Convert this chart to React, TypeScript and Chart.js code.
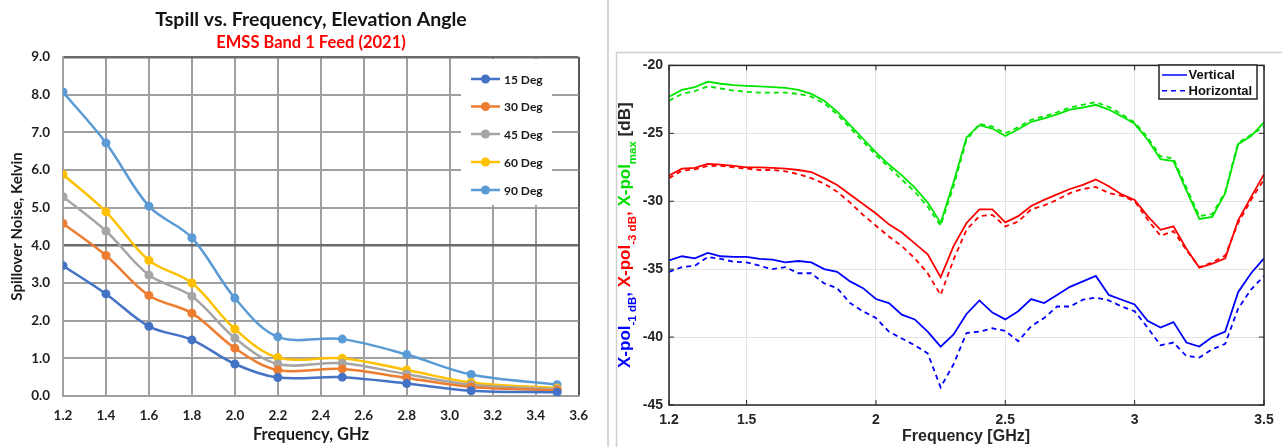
import React, { useEffect, useRef } from "react";
import { Chart, registerables } from "chart.js";
Chart.register(...registerables);

// ---------- Left chart data (Tspill vs frequency) ----------
const leftFreq = [1.2, 1.4, 1.6, 1.8, 2.0, 2.2, 2.5, 2.8, 3.1, 3.5];
const deg15 = [3.46, 2.71, 1.85, 1.49, 0.85, 0.49, 0.5, 0.33, 0.14, 0.1];
const deg30 = [4.58, 3.73, 2.67, 2.2, 1.27, 0.69, 0.72, 0.48, 0.24, 0.15];
const deg45 = [5.29, 4.38, 3.21, 2.65, 1.54, 0.85, 0.87, 0.58, 0.3, 0.18];
const deg60 = [5.88, 4.89, 3.6, 3.0, 1.78, 1.02, 1.0, 0.69, 0.36, 0.21];
const deg90 = [8.07, 6.72, 5.04, 4.2, 2.6, 1.57, 1.51, 1.1, 0.57, 0.3];
const leftLabels = ["15 Deg", "30 Deg", "45 Deg", "60 Deg", "90 Deg"];
const leftColors = ["#4472C4", "#ED7D31", "#A5A5A5", "#FFC000", "#5B9BD5"];

// ---------- Right chart data (X-pol vs frequency) ----------
const rightFreq = [
  1.2, 1.25, 1.3, 1.35, 1.4, 1.45, 1.5, 1.55, 1.6, 1.65,
  1.7, 1.75, 1.8, 1.85, 1.9, 1.95, 2.0, 2.05, 2.1, 2.15,
  2.2, 2.25, 2.3, 2.35, 2.4, 2.45, 2.5, 2.55, 2.6, 2.65,
  2.7, 2.75, 2.8, 2.85, 2.9, 2.95, 3.0, 3.05, 3.1, 3.15,
  3.2, 3.25, 3.3, 3.35, 3.4, 3.45, 3.5,
];
const xpolMaxV = [
  -22.3, -21.8, -21.6, -21.2, -21.35, -21.45, -21.5, -21.55, -21.6, -21.65,
  -21.8, -22.1, -22.6, -23.4, -24.4, -25.4, -26.4, -27.3, -28.1, -29.0,
  -30.1, -31.6, -28.6, -25.3, -24.4, -24.65, -25.2, -24.7, -24.15, -23.9,
  -23.6, -23.25, -23.1, -22.9, -23.25, -23.75, -24.3, -25.45, -26.9, -27.05,
  -29.2, -31.3, -31.15, -29.4, -25.8, -25.2, -24.2,
];
const xpolMaxH = [
  -22.6, -22.1, -21.9, -21.55, -21.7, -21.85, -21.95, -22.0, -22.0, -22.0,
  -22.1, -22.3, -22.8, -23.6, -24.6, -25.6, -26.6, -27.5, -28.4, -29.3,
  -30.4, -31.8, -28.9, -25.5, -24.3, -24.5, -25.0, -24.55, -24.0, -23.75,
  -23.45, -23.1, -22.9, -22.7, -23.05, -23.6, -24.2, -25.3, -26.7, -26.85,
  -29.0, -31.1, -30.95, -29.3, -25.7, -25.1, -24.5,
];
const xpol3V = [
  -28.1, -27.6, -27.55, -27.25, -27.3, -27.4, -27.5, -27.5, -27.55, -27.6,
  -27.7, -27.85, -28.3, -28.8, -29.5, -30.2, -30.9, -31.7, -32.3, -33.1,
  -33.9, -35.6, -33.3, -31.6, -30.6, -30.6, -31.55, -31.1, -30.35, -29.9,
  -29.5, -29.1, -28.8, -28.4, -28.9, -29.5, -29.9, -31.1, -32.1, -31.85,
  -33.5, -34.9, -34.6, -34.2, -31.4, -29.7, -28.0,
];
const xpol3H = [
  -28.3, -27.75, -27.65, -27.4, -27.4, -27.5, -27.6, -27.7, -27.7, -27.8,
  -28.0, -28.3, -28.7, -29.3, -30.1, -31.0, -31.8, -32.6, -33.3, -34.2,
  -35.3, -36.9, -34.3, -32.1, -31.1, -31.0, -31.85, -31.5, -30.6, -30.3,
  -29.9, -29.4, -29.1, -28.95, -29.4, -29.6, -30.0, -31.35, -32.55, -32.2,
  -33.6, -34.85, -34.5, -34.0, -31.6, -29.9, -28.4,
];
const xpol1V = [
  -34.35, -34.05, -34.2, -33.8, -34.05, -34.1, -34.1, -34.25, -34.3, -34.5,
  -34.4, -34.5, -35.0, -35.2, -35.9, -36.4, -37.2, -37.5, -38.35, -38.7,
  -39.6, -40.7, -39.8, -38.3, -37.3, -38.2, -38.7, -38.1, -37.2, -37.5,
  -36.9, -36.3, -35.9, -35.5, -36.9, -37.25, -37.6, -38.8, -39.3, -38.9,
  -40.4, -40.7, -40.0, -39.6, -36.7, -35.3, -34.2,
];
const xpol1H = [
  -35.2, -34.85, -34.75, -34.1, -34.25, -34.45, -34.5, -34.75, -35.0, -34.85,
  -35.3, -35.3, -36.05, -36.4, -37.5, -38.1, -38.6, -39.6, -40.1, -40.6,
  -41.2, -43.7, -42.0, -39.7, -39.6, -39.35, -39.55, -40.3, -39.2, -38.6,
  -37.75, -37.75, -37.25, -37.1, -37.3, -37.75, -38.1, -39.3, -40.6, -40.4,
  -41.4, -41.5, -40.9, -40.5, -37.9, -36.5, -35.5,
];
const rightXTicks = [1.2, 1.5, 2, 2.5, 3, 3.5];
const rightLegend = ["Vertical", "Horizontal"];

const LEFT_FONT = "Lato, 'Open Sans', sans-serif";
const RIGHT_FONT = "'Liberation Sans', Arial, sans-serif";

function LeftChart() {
  const ref = useRef<HTMLCanvasElement>(null);
  useEffect(() => {
    const seriesVals = [deg15, deg30, deg45, deg60, deg90];
    const textPlugin = {
      id: "leftText",
      afterDraw(chart: any) {
        const c = chart.ctx;
        c.save();
        c.textAlign = "center";
        c.textBaseline = "middle";
        c.fillStyle = "#141414";
        c.font = `bold 19.5px ${LEFT_FONT}`;
        c.fillText("Tspill vs. Frequency, Elevation Angle", 311, 20);
        c.fillStyle = "#ff0000";
        c.font = `bold 16.5px ${LEFT_FONT}`;
        c.fillText("EMSS Band 1 Feed (2021)", 311, 43);
        c.fillStyle = "#1a1a1a";
        c.font = `bold 16.5px ${LEFT_FONT}`;
        c.fillText("Frequency, GHz", 311, 435);
        c.font = `bold 15px ${LEFT_FONT}`;
        c.save();
        c.translate(17, 226.5);
        c.rotate(-Math.PI / 2);
        c.fillText("Spillover Noise, Kelvin", 0, 0);
        c.restore();
        // legend
        c.fillStyle = "#ffffff";
        c.fillRect(461, 59, 91, 146);
        const ys = [79, 106.5, 134, 162, 190];
        chart.data.datasets.forEach((ds: any, i: number) => {
          const y = ys[i];
          c.strokeStyle = ds.borderColor;
          c.lineWidth = 2.5;
          c.beginPath();
          c.moveTo(471, y);
          c.lineTo(500, y);
          c.stroke();
          c.fillStyle = ds.borderColor;
          c.beginPath();
          c.arc(485.5, y, 4.5, 0, Math.PI * 2);
          c.fill();
          c.fillStyle = "#1a1a1a";
          c.textAlign = "left";
          c.font = `bold 12px ${LEFT_FONT}`;
          c.fillText(ds.label, 504, y + 1);
        });
        c.restore();
      },
    };
    const chart = new Chart(ref.current!, {
      type: "line",
      data: {
        datasets: leftLabels.map((label, k) => ({
          label,
          data: leftFreq.map((x, i) => ({ x, y: seriesVals[k][i] })),
          borderColor: leftColors[k],
          backgroundColor: leftColors[k],
          borderWidth: 2.5,
          pointRadius: 4.5,
          pointBorderWidth: 0,
          tension: 0.35,
        })),
      },
      options: {
        responsive: false,
        animation: false,
        layout: { padding: { top: 57, right: 15, left: 0, bottom: 0 } },
        plugins: {
          legend: { display: false },
          title: { display: false },
          tooltip: { enabled: false },
        },
        scales: {
          x: {
            type: "linear",
            min: 1.2,
            max: 3.6,
            afterFit: (s: any) => {
              s.height = 51;
            },
            ticks: {
              stepSize: 0.2,
              autoSkip: false,
              maxRotation: 0,
              padding: 12,
              color: "#1f1f1f",
              font: { family: LEFT_FONT, weight: "bold", size: 13.5 },
              callback: (v: any) => Number(v).toFixed(1),
            },
            grid: {
              drawTicks: false,
              lineWidth: 2,
              color: (ctx: any) =>
                ctx.tick && Math.abs(ctx.tick.value - 3.6) < 1e-6 ? "#595959" : "#a0a0a0",
            },
            border: { color: "#a0a0a0", width: 2 },
          },
          y: {
            type: "linear",
            min: 0,
            max: 9,
            afterFit: (s: any) => {
              s.width = 63;
            },
            ticks: {
              stepSize: 1,
              padding: 13,
              color: "#1f1f1f",
              font: { family: LEFT_FONT, weight: "bold", size: 13.5 },
              callback: (v: any) => Number(v).toFixed(1),
            },
            grid: {
              drawTicks: false,
              lineWidth: (ctx: any) => (ctx.tick && (ctx.tick.value === 4 || ctx.tick.value === 9) ? 2.5 : 2),
              color: (ctx: any) =>
                ctx.tick && (ctx.tick.value === 4 || ctx.tick.value === 9) ? "#6b6b6b" : "#a0a0a0",
            },
            border: { color: "#a0a0a0", width: 2 },
          },
        },
      },
      plugins: [textPlugin],
    } as any);
    return () => chart.destroy();
  }, []);
  return (
    <canvas
      ref={ref}
      width={600}
      height={447}
      style={{ position: "absolute", left: 0, top: 0, width: 600, height: 447 }}
    />
  );
}

function RightChart() {
  const ref = useRef<HTMLCanvasElement>(null);
  useEffect(() => {
    const drawPlugin = {
      id: "rightDecor",
      beforeDraw(chart: any) {
        const c = chart.ctx;
        c.save();
        c.fillStyle = "#ffffff";
        c.fillRect(0, 0, chart.width, chart.height);
        c.strokeStyle = "#cfcfcf";
        c.lineWidth = 1.5;
        c.beginPath();
        c.moveTo(1.5, chart.height);
        c.lineTo(1.5, 1.5);
        c.lineTo(chart.width, 1.5);
        c.stroke();
        c.restore();
      },
      afterDraw(chart: any) {
        const c = chart.ctx;
        const a = chart.chartArea;
        const xs = chart.scales.x;
        const ys = chart.scales.y;
        c.save();
        // axes box
        c.strokeStyle = "#262626";
        c.lineWidth = 1.5;
        c.strokeRect(a.left, a.top, a.right - a.left, a.bottom - a.top);
        // inward ticks
        c.lineWidth = 1;
        c.beginPath();
        rightXTicks.forEach((v) => {
          const px = xs.getPixelForValue(v);
          c.moveTo(px, a.top);
          c.lineTo(px, a.top + 5);
          c.moveTo(px, a.bottom);
          c.lineTo(px, a.bottom - 5);
        });
        ys.ticks.forEach((t: any) => {
          const py = ys.getPixelForValue(t.value);
          c.moveTo(a.left, py);
          c.lineTo(a.left + 5, py);
          c.moveTo(a.right, py);
          c.lineTo(a.right - 5, py);
        });
        c.stroke();
        // legend
        const lx = 544, ly = 14, lw = 98, lh = 34;
        c.fillStyle = "#ffffff";
        c.fillRect(lx, ly, lw, lh);
        c.strokeStyle = "#262626";
        c.lineWidth = 1.5;
        c.strokeRect(lx, ly, lw, lh);
        const rows = [24, 39.7];
        rightLegend.forEach((lab, i) => {
          c.strokeStyle = "#0000ff";
          c.lineWidth = 1.5;
          c.setLineDash(i === 0 ? [] : [5, 4]);
          c.beginPath();
          c.moveTo(547, rows[i]);
          c.lineTo(572, rows[i]);
          c.stroke();
          c.setLineDash([]);
          c.fillStyle = "#111111";
          c.font = `bold 13px ${RIGHT_FONT}`;
          c.textAlign = "left";
          c.textBaseline = "middle";
          c.fillText(lab, 573.5, rows[i] + 0.5);
        });
        // x title
        c.fillStyle = "#262626";
        c.font = `bold 16px ${RIGHT_FONT}`;
        c.textAlign = "center";
        c.textBaseline = "middle";
        c.fillText("Frequency [GHz]", 351, 386);
        // y title, multi-coloured with subscripts
        const mainF = `bold 17px ${RIGHT_FONT}`;
        const subF = `bold 11.5px ${RIGHT_FONT}`;
        const segs: [string, string, boolean][] = [
          ["X-pol", "#0000ff", false],
          ["-1 dB", "#0000ff", true],
          [", ", "#0000ff", false],
          ["X-pol", "#ff0000", false],
          ["-3 dB", "#ff0000", true],
          [", ", "#ff0000", false],
          ["X-pol", "#00dd00", false],
          ["max", "#00dd00", true],
          [" [dB]", "#262626", false],
        ];
        let total = 0;
        segs.forEach(([t, , sub]) => {
          c.font = sub ? subF : mainF;
          total += c.measureText(t).width;
        });
        c.translate(15, (a.top + a.bottom) / 2);
        c.rotate(-Math.PI / 2);
        c.textAlign = "left";
        c.textBaseline = "alphabetic";
        let x = -total / 2;
        segs.forEach(([t, col, sub]) => {
          c.font = sub ? subF : mainF;
          c.fillStyle = col;
          c.fillText(t, x, sub ? 6 : 0);
          x += c.measureText(t).width;
        });
        c.restore();
      },
    };
    const mk = (label: string, vals: number[], color: string, dashed: boolean) => ({
      label,
      data: rightFreq.map((x, i) => ({ x, y: vals[i] })),
      borderColor: color,
      backgroundColor: color,
      borderWidth: 1.8,
      borderDash: dashed ? [5, 4] : [],
      pointRadius: 0,
      tension: 0,
    });
    const chart = new Chart(ref.current!, {
      type: "line",
      data: {
        datasets: [
          mk("X-pol max Vertical", xpolMaxV, "#00e600", false),
          mk("X-pol max Horizontal", xpolMaxH, "#00e600", true),
          mk("X-pol -3 dB Vertical", xpol3V, "#ff0000", false),
          mk("X-pol -3 dB Horizontal", xpol3H, "#ff0000", true),
          mk("X-pol -1 dB Vertical", xpol1V, "#0000ff", false),
          mk("X-pol -1 dB Horizontal", xpol1H, "#0000ff", true),
        ],
      },
      options: {
        responsive: false,
        animation: false,
        layout: { padding: { top: 9, right: 18, left: 0, bottom: 0 } },
        plugins: {
          legend: { display: false },
          title: { display: false },
          tooltip: { enabled: false },
        },
        scales: {
          x: {
            type: "linear",
            min: 1.2,
            max: 3.5,
            afterFit: (s: any) => {
              s.height = 42;
            },
            afterBuildTicks: (s: any) => {
              s.ticks = rightXTicks.map((v) => ({ value: v }));
            },
            ticks: {
              autoSkip: false,
              maxRotation: 0,
              padding: 7,
              color: "#262626",
              font: { family: RIGHT_FONT, weight: "bold", size: 14 },
              callback: (v: any) => String(v),
            },
            grid: { drawTicks: false, color: "#e3e3e3", lineWidth: 1 },
            border: { display: false },
          },
          y: {
            type: "linear",
            min: -45,
            max: -20,
            afterFit: (s: any) => {
              s.width = 54;
            },
            ticks: {
              stepSize: 5,
              padding: 6,
              color: "#262626",
              font: { family: RIGHT_FONT, weight: "bold", size: 14 },
            },
            grid: { drawTicks: false, color: "#e3e3e3", lineWidth: 1 },
            border: { display: false },
          },
        },
      },
      plugins: [drawPlugin],
    } as any);
    return () => chart.destroy();
  }, []);
  return (
    <canvas
      ref={ref}
      width={667}
      height={396}
      style={{ position: "absolute", left: 615, top: 51, width: 667, height: 396 }}
    />
  );
}

export default function App() {
  return (
    <div
      style={{
        position: "absolute",
        left: 0,
        top: 0,
        width: 1282,
        height: 447,
        background: "#ffffff",
        overflow: "hidden",
      }}
    >
      <LeftChart />
      <div
        style={{
          position: "absolute",
          left: 607,
          top: 0,
          width: 2,
          height: 447,
          background: "#d6d6d6",
        }}
      />
      <RightChart />
    </div>
  );
}
